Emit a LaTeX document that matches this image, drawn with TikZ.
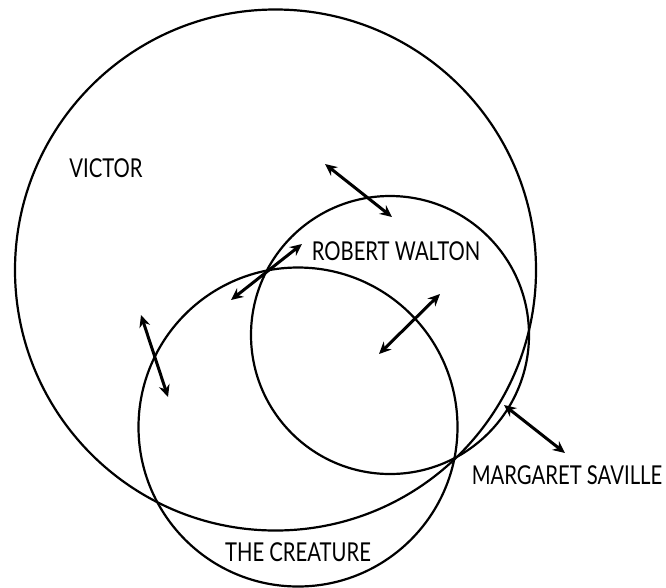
\documentclass[tikz,border=0pt]{standalone}
\usepackage{fontspec}
\setmainfont{Lato}[FakeStretch=0.78]
\usetikzlibrary{arrows.meta}
\begin{document}
\begin{tikzpicture}[x=1pt,y=-1pt,
  ring/.style={draw=black,line width=2.2pt,circle,inner sep=0pt},
  rel/.style={line width=3pt,{Stealth[length=12pt,width=11pt]}-{Stealth[length=12pt,width=11pt]}},
  lbl/.style={font=\fontsize{26}{26}\selectfont,inner sep=0pt}]
\useasboundingbox (0,0) rectangle (666,587);
\node[ring,minimum size=521pt] (victor) at (275.5,270) {};
\node[ring,minimum size=278pt] (walton) at (390,335) {};
\node[ring,minimum size=319pt] (creature) at (298,427) {};
\node[lbl] (lv) at (106,168) {VICTOR};
\node[lbl] (lw) at (396,251) {ROBERT WALTON};
\node[lbl] (lm) at (567,475) {MARGARET SAVILLE};
\node[lbl] (lc) at (298,552) {THE CREATURE};
\coordinate (a1) at (325,164); \coordinate (b1) at (392,217);
\coordinate (a2) at (302,244); \coordinate (b2) at (231,300);
\coordinate (a3) at (440,294); \coordinate (b3) at (379,354);
\coordinate (a4) at (141,315); \coordinate (b4) at (168,397);
\coordinate (a5) at (504,405); \coordinate (b5) at (565,453);
\draw[rel] (a1) -- (b1);
\draw[rel] (a2) -- (b2);
\draw[rel] (a3) -- (b3);
\draw[rel] (a4) -- (b4);
\draw[rel] (a5) -- (b5);
\end{tikzpicture}
\end{document}
